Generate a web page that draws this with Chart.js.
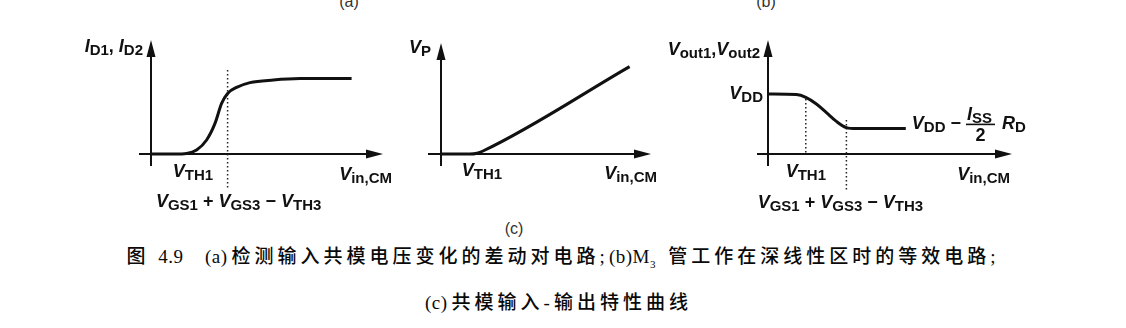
<!DOCTYPE html>
<html>
<head>
<meta charset="utf-8">
<script src="https://cdn.jsdelivr.net/npm/chart.js@4.4.0/dist/chart.umd.min.js"></script>
<style>
  html, body { margin: 0; padding: 0; background: #fff; }
  body { width: 1126px; height: 328px; position: relative; overflow: hidden; font-family: "Liberation Sans", Arial, sans-serif; color: #111; }
  canvas { position: absolute; }
  .tag { position: absolute; font-size: 16px; color: #333; transform: translateX(-50%); line-height: 16px; }
  .cap { position: absolute; white-space: nowrap; font-family: "Liberation Serif", "Noto Sans CJK SC", serif; font-size: 19px; font-weight: 500; letter-spacing: 4px; line-height: 24px; color: #0a0a0a; }
  .cap .la { letter-spacing: 0.5px; margin-right: 4px; }
</style>
</head>
<body>
<div class="tag" style="left:349px; top:-6px;">(a)</div>
<div class="tag" style="left:766px; top:-6px;">(b)</div>
<div class="tag" style="left:514px; top:221px;">(c)</div>

<canvas id="g1" width="340" height="200" style="left:60px; top:20px;"></canvas>
<canvas id="g2" width="280" height="200" style="left:390px; top:20px;"></canvas>
<canvas id="g3" width="390" height="200" style="left:660px; top:20px;"></canvas>

<div class="cap" style="left:0; width:1126px; text-align:center; top:245px;">图 <span class="la">4.9</span> &nbsp;<span class="la">(a)</span>检测输入共模电压变化的差动对电路;<span class="la">(b)M<sub style="font-size:11px;letter-spacing:0">3</sub></span> 管工作在深线性区时的等效电路;</div>
<div class="cap" style="left:425px; top:291px;"><span class="la">(c)</span>共模输入-输出特性曲线</div>

<script>
// Curva 1: I_D1, I_D2 frente a V_in,CM (unidades arbitrarias)
const vinA = [0, 1.2, 1.78, 2.28, 2.78, 3.2, 3.53, 3.83, 4.28, 4.95, 6.12, 7.45, 10.03];
const idA  = [0, 0, 0.03, 0.2, 0.7, 1.53, 2.53, 3.03, 3.33, 3.57, 3.7, 3.77, 3.78];
const vth1A = 2.1;
const vgsA  = 3.83;   // V_GS1 + V_GS3 - V_TH3

// Curva 2: V_P frente a V_in,CM
const vinB = [0, 1.45, 1.8, 2.1, 9.43];
const vpB  = [0, 0, 0.04, 0.15, 4.37];
const vth1B = 2.05;

// Curva 3: V_out1, V_out2 frente a V_in,CM
const vinC  = [0, 1.42, 1.89, 2.42, 2.92, 3.42, 3.92, 4.42, 6.89];
const voutC = [3.0, 2.97, 2.83, 2.5, 2.07, 1.63, 1.32, 1.27, 1.27];
const marcasC = [1.89, 3.92];  // V_TH1, V_GS1 + V_GS3 - V_TH3

const tinta = '#111';
const fuentes = {
  i: 'italic bold 18px "Liberation Sans", Arial, sans-serif',
  b: 'bold 18px "Liberation Sans", Arial, sans-serif',
  s: 'bold 15px "Liberation Sans", Arial, sans-serif'
};

// Escribe un texto con subíndices: partes = [[texto, tipo], ...]
function escribir(ctx, x, y, partes, alinear) {
  let ancho = 0;
  partes.forEach(p => { ctx.font = fuentes[p[1]]; ancho += ctx.measureText(p[0]).width; });
  let cx = x;
  if (alinear === 'right') cx = x - ancho;
  if (alinear === 'center') cx = x - ancho / 2;
  partes.forEach(p => {
    ctx.font = fuentes[p[1]];
    ctx.fillText(p[0], cx, p[1] === 's' ? y + 3 : y);
    cx += ctx.measureText(p[0]).width;
  });
  return cx;
}

// Ejes con flecha que se cruzan en el origen
const ejes = {
  id: 'ejes',
  beforeDatasetsDraw(chart) {
    const { ctx, chartArea: a, scales: { x, y } } = chart;
    const x0 = x.getPixelForValue(0), y0 = y.getPixelForValue(0);
    ctx.save();
    ctx.strokeStyle = tinta; ctx.fillStyle = tinta; ctx.lineWidth = 2;
    ctx.beginPath();
    ctx.moveTo(a.left, y0); ctx.lineTo(a.right - 12, y0);
    ctx.moveTo(x0, a.bottom); ctx.lineTo(x0, a.top + 12);
    ctx.stroke();
    ctx.beginPath();
    ctx.moveTo(a.right, y0); ctx.lineTo(a.right - 17, y0 - 4.5); ctx.lineTo(a.right - 17, y0 + 4.5);
    ctx.closePath(); ctx.fill();
    ctx.beginPath();
    ctx.moveTo(x0, a.top); ctx.lineTo(x0 - 4.5, a.top + 17); ctx.lineTo(x0 + 4.5, a.top + 17);
    ctx.closePath(); ctx.fill();
    ctx.restore();
  }
};

// Rótulos anclados a valores de los ejes
const rotulos = {
  id: 'rotulos',
  afterDraw(chart, args, opts) {
    const { ctx, scales: { x, y } } = chart;
    ctx.save();
    ctx.fillStyle = tinta;
    ctx.textBaseline = 'alphabetic';
    (opts.items || []).forEach(r => {
      const px = x.getPixelForValue(r.en[0]) + (r.dx || 0);
      const py = y.getPixelForValue(r.en[1]) + (r.dy || 0);
      if (r.dibujar) r.dibujar(ctx, px, py);
      else escribir(ctx, px, py, r.partes, r.alinear);
    });
    ctx.restore();
  }
};

const puntos = (xs, ys) => xs.map((v, i) => ({ x: v, y: ys[i] }));

function curva(xs, ys) {
  return {
    data: puntos(xs, ys), borderColor: tinta, borderWidth: 3,
    cubicInterpolationMode: 'monotone', pointRadius: 0, fill: false, clip: false
  };
}
function punteada(xv, y1, y2) {
  return {
    data: [{ x: xv, y: y1 }, { x: xv, y: y2 }], borderColor: '#222', borderWidth: 1.5,
    borderDash: [1.5, 2.5], pointRadius: 0, fill: false, clip: false
  };
}

function grafica(id, lim, pad, datasets, items) {
  return new Chart(document.getElementById(id), {
    type: 'line',
    data: { datasets },
    options: {
      responsive: false, animation: false,
      layout: { padding: pad },
      scales: {
        x: { type: 'linear', min: lim[0], max: lim[1], display: false },
        y: { type: 'linear', min: lim[2], max: lim[3], display: false }
      },
      plugins: { legend: { display: false }, tooltip: { enabled: false }, rotulos: { items } }
    },
    plugins: [ejes, rotulos]
  });
}

const vGS = [['V', 'i'], ['GS1', 's'], [' + ', 'b'], ['V', 'i'], ['GS3', 's'], [' \u2212 ', 'b'], ['V', 'i'], ['TH3', 's']];
const vIN = [['V', 'i'], ['in,CM', 's']];
const vTH = [['V', 'i'], ['TH1', 's']];

// (a) corriente de drenaje
grafica('g1', [-0.6, 11.6, -0.6, 5.7], { left: 79, right: 17, top: 20, bottom: 54 },
  [curva(vinA, idA), punteada(vgsA, 4.2, -1.8)],
  [
    { en: [0, 5.7], dx: -8, dy: 12, alinear: 'right', partes: [['I', 'i'], ['D1', 's'], [', ', 'b'], ['I', 'i'], ['D2', 's']] },
    { en: [vth1A, 0], dy: 23, alinear: 'center', partes: vTH },
    { en: [11.6, 0], dx: 9, dy: 26, alinear: 'right', partes: vIN },
    { en: [vgsA, 0], dx: 11, dy: 53, alinear: 'center', partes: vGS }
  ]);

// (b) tensión V_P
grafica('g2', [-0.65, 10.5, -0.6, 5.55], { left: 38, right: 19, top: 23, bottom: 54 },
  [curva(vinB, vpB)],
  [
    { en: [0, 5.55], dx: -10, dy: 10, alinear: 'right', partes: [['V', 'i'], ['P', 's']] },
    { en: [vth1B, 0], dy: 22, alinear: 'center', partes: vTH },
    { en: [10.5, 0], dx: 6, dy: 25, alinear: 'right', partes: vIN }
  ]);

// (c) tensiones de salida
grafica('g3', [-0.55, 12.2, -0.6, 5.7], { left: 97, right: 38, top: 20, bottom: 54 },
  [curva(vinC, voutC), punteada(marcasC[0], 2.75, 0), punteada(marcasC[1], 1.7, -1.9)],
  [
    { en: [0, 5.7], dx: -8, dy: 15, alinear: 'right', partes: [['V', 'i'], ['out1', 's'], [',', 'b'], ['V', 'i'], ['out2', 's']] },
    { en: [0, voutC[0]], dx: -5, dy: 5, alinear: 'right', partes: [['V', 'i'], ['DD', 's']] },
    { en: [marcasC[0], 0], dy: 23, alinear: 'center', partes: vTH },
    { en: [12.2, 0], dx: -2, dy: 26, alinear: 'right', partes: vIN },
    { en: [marcasC[1], 0], dx: -6, dy: 54, alinear: 'center', partes: vGS },
    {
      en: [vinC[vinC.length - 1], voutC[voutC.length - 1]], dx: 6, dy: 0,
      dibujar(ctx, px, py) {
        let cx = escribir(ctx, px, py, [['V', 'i'], ['DD', 's'], [' \u2212', 'b']]);
        // fracción I_SS / 2
        ctx.font = fuentes.i;
        const iw = ctx.measureText('I').width;
        ctx.font = fuentes.s;
        const sw = ctx.measureText('SS').width;
        const fw = iw + sw + 4;
        cx += 4;
        escribir(ctx, cx + 2, py - 9, [['I', 'i'], ['SS', 's']]);
        ctx.fillRect(cx + 1, py - 5, fw, 1.6);
        ctx.font = fuentes.b;
        ctx.textAlign = 'center';
        ctx.fillText('2', cx + 1 + fw / 2, py + 12);
        ctx.textAlign = 'left';
        escribir(ctx, cx + fw + 8, py, [['R', 'i'], ['D', 's']]);
      }
    }
  ]);
</script>
</body>
</html>
